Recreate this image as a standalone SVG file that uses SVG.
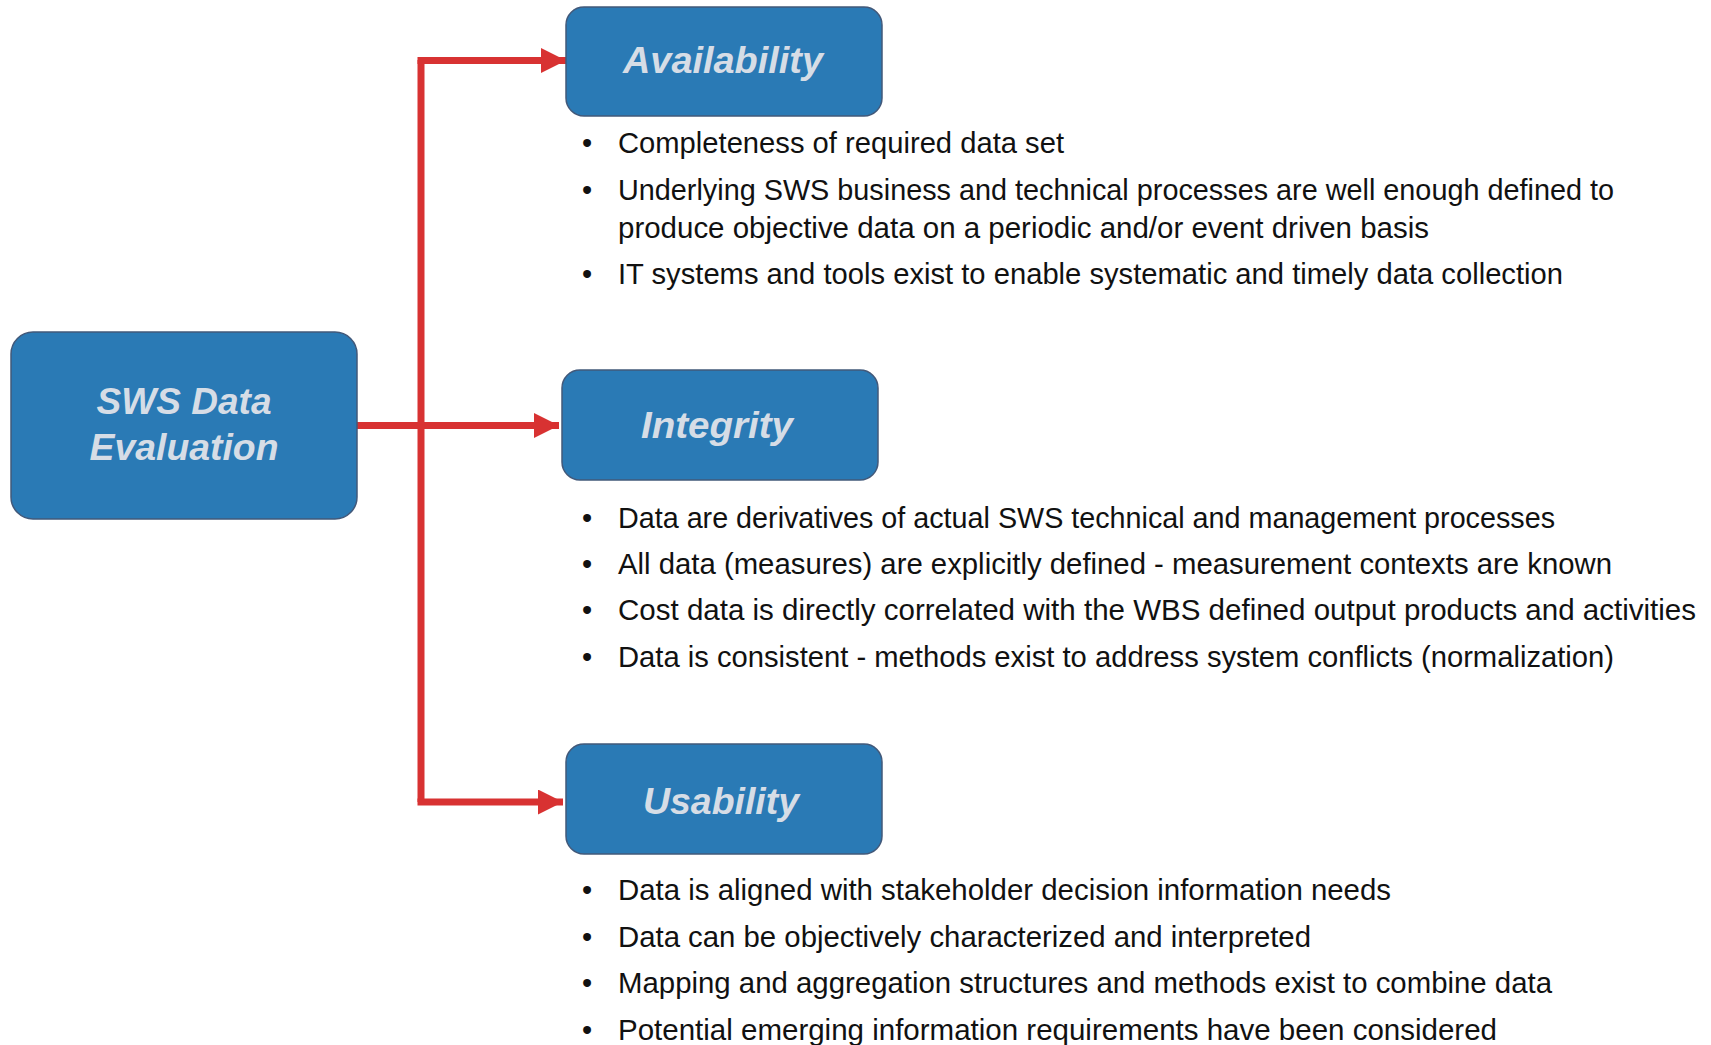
<svg xmlns="http://www.w3.org/2000/svg" width="1711" height="1045" viewBox="0 0 1711 1045">
  <defs>
    <style>
      .box { fill: #2A7AB5; stroke: #42597A; stroke-width: 1.5; }
      .title { font-family: "Liberation Sans", Arial, sans-serif; font-weight: bold; font-style: italic; font-size: 37px; fill: #D6DDE6; text-anchor: middle; }
      .item { font-family: "Liberation Sans", Arial, sans-serif; font-size: 29px; fill: #111111; }
      .dot { font-family: "Liberation Sans", Arial, sans-serif; font-size: 29px; fill: #111111; }
      .link { fill: none; stroke: #D83232; stroke-width: 7; stroke-linejoin: miter; }
    </style>
    <marker id="arrow" viewBox="0 0 10 10" refX="10" refY="5" markerUnits="userSpaceOnUse" markerWidth="25" markerHeight="25" orient="auto">
      <path d="M0,0 L10,5 L0,10 Z" fill="#D83232"/>
    </marker>
  </defs>

  <!-- connectors: trunk and three branches -->
  <g id="connectors">
    <path class="link" d="M421,60 L421,802"/>
    <path class="link" d="M357,425.5 L559,425.5" marker-end="url(#arrow)"/>
    <path class="link" d="M417.5,60.5 L566,60.5" marker-end="url(#arrow)"/>
    <path class="link" d="M417.5,802 L563,802" marker-end="url(#arrow)"/>
  </g>

  <!-- root node -->
  <g id="node-sws">
    <rect class="box" x="11" y="332" width="346" height="187" rx="22"/>
    <text class="title" x="184" y="414" textLength="175" lengthAdjust="spacingAndGlyphs">SWS Data</text>
    <text class="title" x="184" y="460" textLength="189" lengthAdjust="spacingAndGlyphs">Evaluation</text>
  </g>

  <!-- Availability -->
  <g id="node-availability">
    <rect class="box" x="566" y="7" width="316" height="109" rx="18"/>
    <text class="title" x="723" y="73" textLength="200" lengthAdjust="spacingAndGlyphs">Availability</text>
  </g>
  <g id="list-availability">
    <text class="dot" x="582" y="153">•</text>
    <text class="item" x="618" y="153" textLength="446" lengthAdjust="spacingAndGlyphs">Completeness of required data set</text>
    <text class="dot" x="582" y="200">•</text>
    <text class="item" x="618" y="200" textLength="996" lengthAdjust="spacingAndGlyphs">Underlying SWS business and technical processes are well enough defined to</text>
    <text class="item" x="618" y="238" textLength="811" lengthAdjust="spacingAndGlyphs">produce objective data on a periodic and/or event driven basis</text>
    <text class="dot" x="582" y="284">•</text>
    <text class="item" x="618" y="284" textLength="945" lengthAdjust="spacingAndGlyphs">IT systems and tools exist to enable systematic and timely data collection</text>
  </g>

  <!-- Integrity -->
  <g id="node-integrity">
    <rect class="box" x="562" y="370" width="316" height="110" rx="18"/>
    <text class="title" x="717" y="438" textLength="152" lengthAdjust="spacingAndGlyphs">Integrity</text>
  </g>
  <g id="list-integrity">
    <text class="dot" x="582" y="528">•</text>
    <text class="item" x="618" y="528" textLength="937" lengthAdjust="spacingAndGlyphs">Data are derivatives of actual SWS technical and management processes</text>
    <text class="dot" x="582" y="574">•</text>
    <text class="item" x="618" y="574" textLength="994" lengthAdjust="spacingAndGlyphs">All data (measures) are explicitly defined - measurement contexts are known</text>
    <text class="dot" x="582" y="620">•</text>
    <text class="item" x="618" y="620" textLength="1078" lengthAdjust="spacingAndGlyphs">Cost data is directly correlated with the WBS defined output products and activities</text>
    <text class="dot" x="582" y="667">•</text>
    <text class="item" x="618" y="667" textLength="996" lengthAdjust="spacingAndGlyphs">Data is consistent - methods exist to address system conflicts (normalization)</text>
  </g>

  <!-- Usability -->
  <g id="node-usability">
    <rect class="box" x="566" y="744" width="316" height="110" rx="18"/>
    <text class="title" x="721" y="814" textLength="156" lengthAdjust="spacingAndGlyphs">Usability</text>
  </g>
  <g id="list-usability">
    <text class="dot" x="582" y="900">•</text>
    <text class="item" x="618" y="900" textLength="773" lengthAdjust="spacingAndGlyphs">Data is aligned with stakeholder decision information needs</text>
    <text class="dot" x="582" y="947">•</text>
    <text class="item" x="618" y="947" textLength="693" lengthAdjust="spacingAndGlyphs">Data can be objectively characterized and interpreted</text>
    <text class="dot" x="582" y="993">•</text>
    <text class="item" x="618" y="993" textLength="934" lengthAdjust="spacingAndGlyphs">Mapping and aggregation structures and methods exist to combine data</text>
    <text class="dot" x="582" y="1040">•</text>
    <text class="item" x="618" y="1040" textLength="879" lengthAdjust="spacingAndGlyphs">Potential emerging information requirements have been considered</text>
  </g>
</svg>
